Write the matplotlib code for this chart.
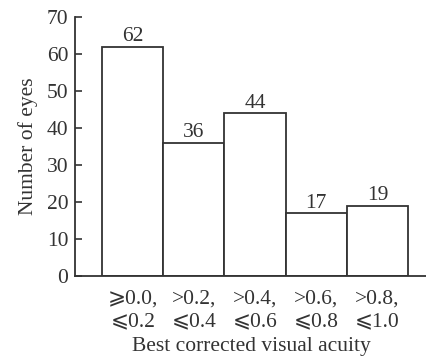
import matplotlib.pyplot as plt
import numpy as np

categories = ["\u2A7E0.0,\n\u2A7D0.2", ">0.2,\n\u2A7D0.4", ">0.4,\n\u2A7D0.6",
              ">0.6,\n\u2A7D0.8", ">0.8,\n\u2A7D1.0"]
counts = [62, 36, 44, 17, 19]

plt.rcParams['font.family'] = ['Liberation Serif', 'DejaVu Serif', 'DejaVu Sans']
fs = 15.5

col = "#333333"
fig = plt.figure(figsize=(4.27, 3.58), dpi=100)
ax = fig.add_axes([0.176, 0.229, 0.824, 0.7235])

x = np.arange(len(counts))
ax.bar(x, counts, width=1.0, facecolor="white", edgecolor=col, linewidth=1.3)
for xi, c in zip(x, counts):
    ax.text(xi, c + 0.1, str(c), ha="center", va="bottom", color=col, fontsize=fs)

ax.set_xlim(-0.94, 4.81)
ax.set_ylim(0, 70)
ax.set_yticks(range(0, 71, 10))
ax.set_xticks(x)
ax.set_xticklabels(categories, linespacing=1.25)
ax.tick_params(axis="y", direction="in", length=5, width=1.2, colors=col, labelsize=fs, pad=5)
ax.tick_params(axis="x", length=0, colors=col, labelsize=fs, pad=10)
for s in ["top", "right"]:
    ax.spines[s].set_visible(False)
for s in ["left", "bottom"]:
    ax.spines[s].set_linewidth(1.3)
    ax.spines[s].set_color(col)
ax.set_ylabel("Number of eyes", color=col, fontsize=fs, labelpad=6)
ax.set_xlabel("Best corrected visual acuity", color=col, fontsize=fs, labelpad=4)

fig.savefig("out.png", dpi=100)
